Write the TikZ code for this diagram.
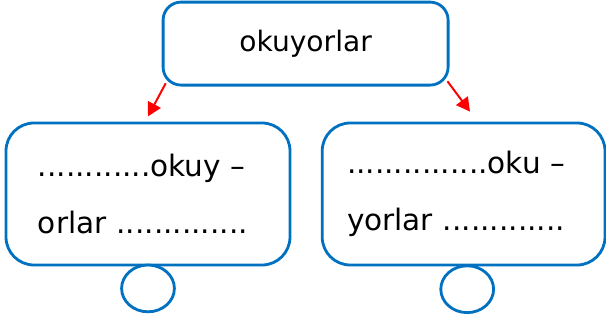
\documentclass[tikz,border=0pt]{standalone}
\usepackage{fontspec}
\setmainfont{DejaVu Sans}
\usetikzlibrary{positioning,shapes.geometric,arrows.meta}
\definecolor{boxblue}{RGB}{0,112,192}
\tikzset{
  wordbox/.style={draw=boxblue, line width=2pt, rounded corners=0.7cm, align=left,
    text width=5.5cm, inner xsep=0.8cm, minimum height=3.55cm,
    font=\fontsize{21}{40.4}\selectfont},
  topbox/.style={draw=boxblue, line width=2pt, rounded corners=0.45cm,
    minimum width=7.125cm, minimum height=2.075cm, font=\fontsize{20}{24}\selectfont},
  blank/.style={ellipse, draw=boxblue, line width=2pt, fill=white,
    minimum width=1.32cm, minimum height=1.17cm},
  redarrow/.style={red, line width=1.4pt, -{Triangle[length=0.34cm,width=0.36cm]}}
}
\begin{document}
\begin{tikzpicture}
\useasboundingbox (0,0) rectangle (15.15,-8);

\node[topbox] (word) at (7.64,-1.09) {okuyorlar};
\node[wordbox] (left) at (3.7,-4.85) {............okuy --\\orlar ..............};
\node[wordbox, inner xsep=0.62cm, text width=5.83cm] (right) at (11.59,-4.85) {...............oku --\\yorlar .............};

\node[blank, below=-0.07cm of left] (leftblank) {};
\node[blank, below=-0.05cm of right, xshift=0.09cm] (rightblank) {};

\draw[redarrow] ([xshift=0.1cm,yshift=0.08cm]word.south west) -- ([yshift=0.13cm]left.north);
\draw[redarrow] ([xshift=-0.05cm,yshift=0.13cm]word.south east) -- ([xshift=0.16cm,yshift=0.25cm]right.north);
\end{tikzpicture}
\end{document}
